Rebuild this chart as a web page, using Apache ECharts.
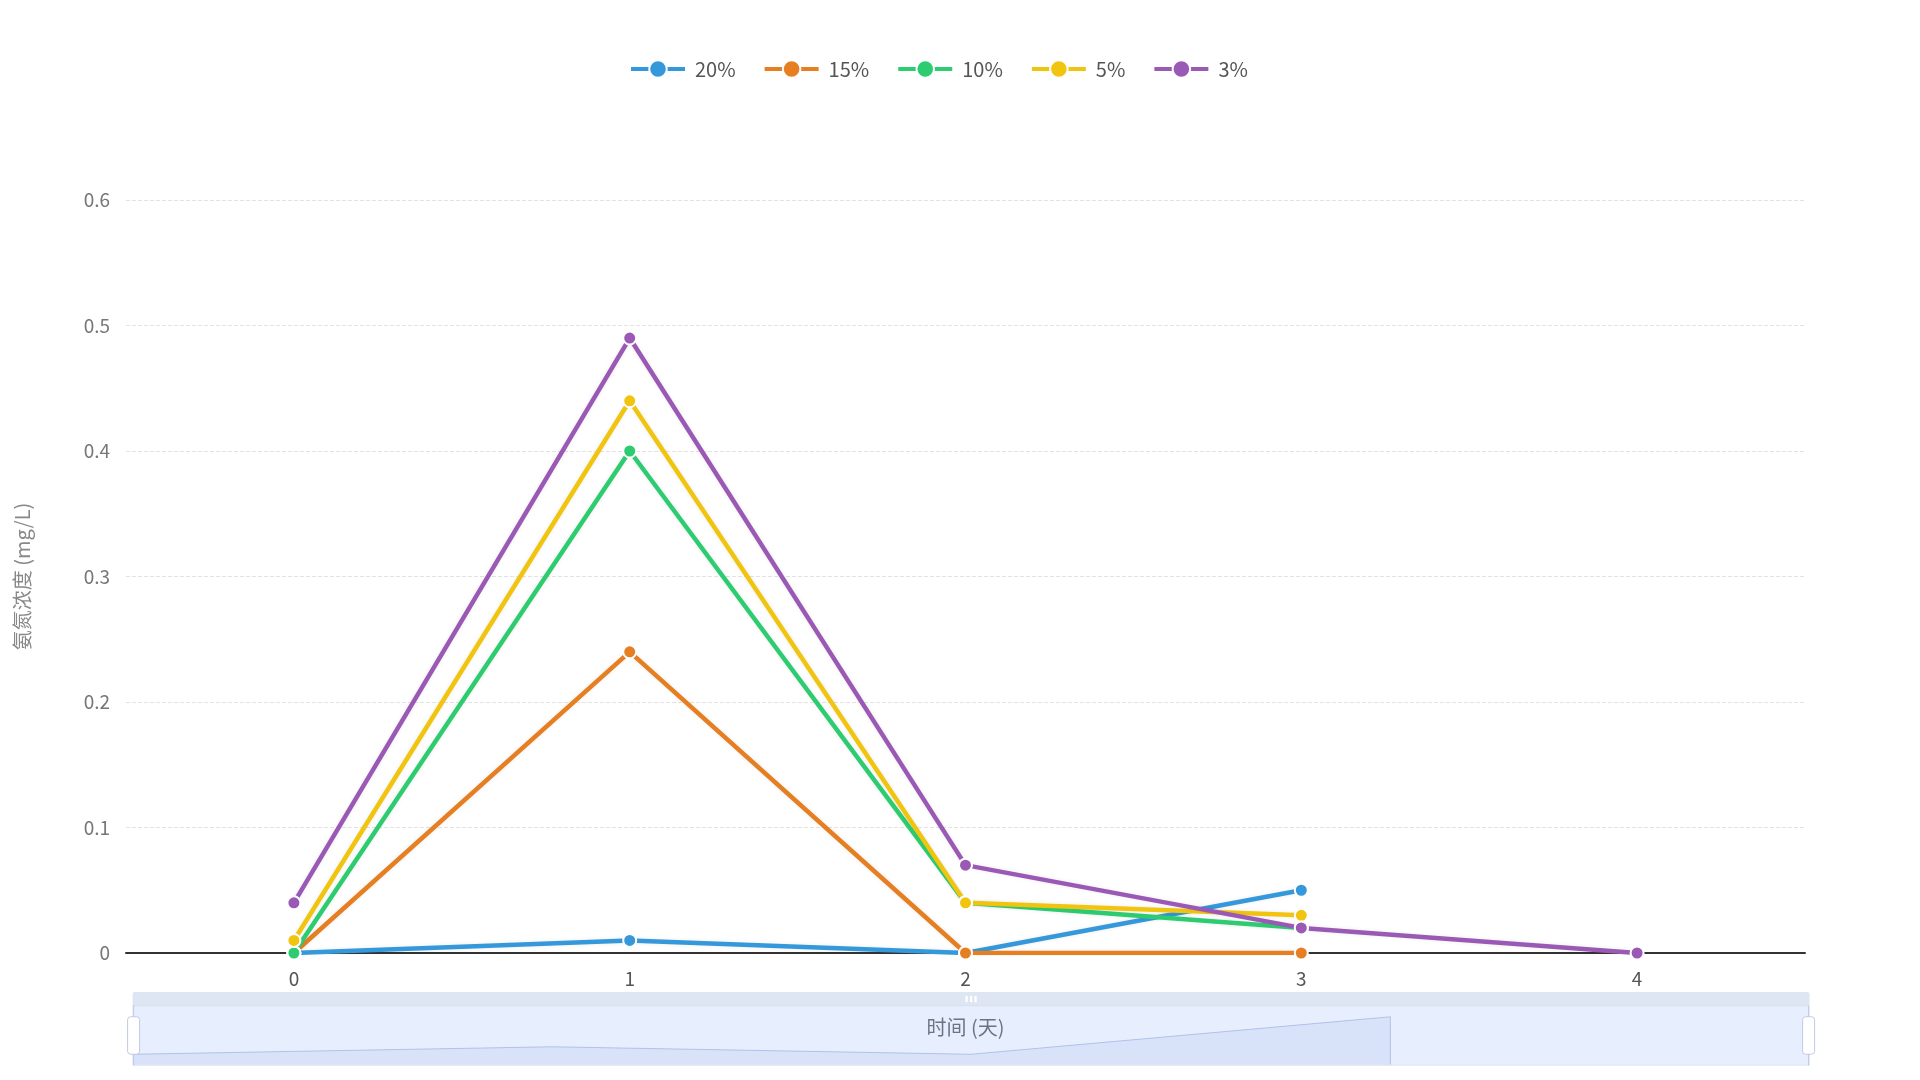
<!DOCTYPE html>
<html>
<head>
<meta charset="utf-8">
<title>氨氮浓度</title>
<script src="https://cdn.jsdelivr.net/npm/echarts@6/dist/echarts.min.js"></script>
<style>
  html, body { margin: 0; padding: 0; background: #fff; }
  #chart { width: 1920px; height: 1080px; }
</style>
</head>
<body>
<div id="chart"></div>
<script>
// 时间 (天)
const days = ['0', '1', '2', '3', '4']
const seriesNames = ['20%', '15%', '10%', '5%', '3%']
const colors = ['#3498db', '#e67e22', '#2ecc71', '#f1c40f', '#9b59b6']

// 氨氮浓度 (mg/L)
const c20 = [0, 0.01, 0, 0.05, null]
const c15 = [0, 0.24, 0, 0, null]
const c10 = [0, 0.40, 0.04, 0.02, null]
const c5 = [0.01, 0.44, 0.04, 0.03, null]
const c3 = [0.04, 0.49, 0.07, 0.02, 0]

const yTicks = { min: 0, max: 0.6, interval: 0.1 }

const values = [c20, c15, c10, c5, c3]
const fontFamily = '"Noto Sans CJK SC", "Noto Sans", sans-serif'

const chart = echarts.init(document.getElementById('chart'))

const series = seriesNames.map((name, i) => ({
  name,
  type: 'line',
  data: values[i],
  symbol: 'circle',
  symbolSize: 13,
  color: colors[i],
  itemStyle: {
    color: colors[i],
    borderColor: '#fff',
    borderWidth: 2,
  },
  lineStyle: {
    width: 4.5,
    color: colors[i],
    shadowColor: 'rgba(0, 0, 0, 0.08)',
    shadowBlur: 4,
  },
}))

chart.setOption({
  animation: false,
  textStyle: { fontFamily },
  legend: {
    top: 54,
    left: 624,
    itemWidth: 54,
    itemHeight: 22,
    itemGap: 27,
    lineStyle: { width: 4 },
    itemStyle: { borderColor: '#fff', borderWidth: 2 },
    textStyle: { fontSize: 20, color: '#555', padding: [0, 0, 0, 5] },
    data: seriesNames,
  },
  grid: {
    left: 126,
    right: 115,
    top: 200,
    bottom: 127,
  },
  xAxis: {
    type: 'category',
    data: days,
    name: '时间 (天)',
    nameLocation: 'middle',
    nameGap: 64,
    nameTextStyle: { fontSize: 20, color: '#666' },
    axisLine: { lineStyle: { color: '#333', width: 2 } },
    axisTick: { alignWithLabel: true, lineStyle: { color: '#333' } },
    axisLabel: { fontSize: 19, color: '#555', margin: 16 },
  },
  yAxis: {
    type: 'value',
    min: yTicks.min,
    max: yTicks.max,
    interval: yTicks.interval,
    name: '氨氮浓度 (mg/L)',
    nameLocation: 'middle',
    nameGap: 94,
    nameTextStyle: { fontSize: 20, color: '#888' },
    axisLine: { show: false },
    axisTick: { show: false },
    axisLabel: { fontSize: 19, color: '#777', margin: 16 },
    splitLine: { lineStyle: { type: 'dashed', color: '#e2e2e2' } },
  },
  dataZoom: [
    {
      type: 'slider',
      xAxisIndex: 0,
      start: 0,
      end: 100,
      left: 127,
      right: 116,
      top: 992,
      height: 60,
      moveHandleSize: 14,
      moveHandleStyle: { color: '#D2DBEE', opacity: 0.7 },
      showDetail: false,
    },
  ],
  series,
})

window.addEventListener('resize', () => chart.resize())
</script>
</body>
</html>
